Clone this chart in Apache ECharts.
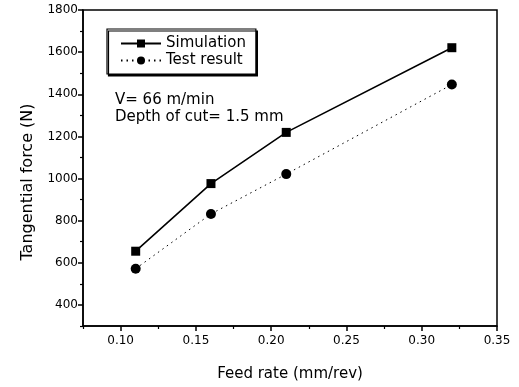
<!DOCTYPE html>
<html>
<head>
<meta charset="utf-8">
<script src="https://cdn.jsdelivr.net/npm/echarts@6/dist/echarts.min.js"></script>
<style>html,body{margin:0;padding:0;background:#fff;}#c{width:519px;height:387px;}</style>
</head>
<body>
<div id="c"></div>
<script>
const feedRate = [0.11, 0.16, 0.21, 0.32];
const simulation = [655, 976, 1219, 1621];
const testResult = [572, 832, 1021, 1446];
const xTicks = [0.10, 0.15, 0.20, 0.25, 0.30, 0.35];
const xMinorTicks = [0.075, 0.125, 0.175, 0.225, 0.275, 0.325];
const yTicks = [400, 600, 800, 1000, 1200, 1400, 1600, 1800];
const yMinorTicks = [300, 500, 700, 900, 1100, 1300, 1500, 1700];

const FONT = 'DejaVu Sans';
const chart = echarts.init(document.getElementById('c'), null, {renderer: 'canvas'});
chart.setOption({
  animation: false,
  backgroundColor: '#fff',
  textStyle: {fontFamily: FONT, color: '#000'},
  grid: {left: 83, right: 22, top: 10, bottom: 61, show: true, borderColor: '#000', borderWidth: 1.5, outerBoundsMode: 'none'},
  title: {
    text: 'V= 66 m/min\nDepth of cut= 1.5 mm',
    left: 115, top: 92, padding: 0,
    textStyle: {fontFamily: FONT, fontSize: 15, fontWeight: 'normal', color: '#000', lineHeight: 17}
  },
  legend: {
    orient: 'vertical', left: 107, top: 29,
    padding: [7, 10, 6, 13],
    itemWidth: 40, itemHeight: 10, itemGap: 2,
    backgroundColor: '#fff', borderColor: '#000', borderWidth: 1.2,
    shadowColor: '#000', shadowOffsetX: 1.5, shadowOffsetY: 2, shadowBlur: 0,
    textStyle: {fontFamily: FONT, fontSize: 15, color: '#000'},
    data: ['Simulation', 'Test result']
  },
  xAxis: [{
    type: 'value', min: 0.075, max: 0.35,
    name: 'Feed rate (mm/rev)', nameLocation: 'middle', nameGap: 41,
    nameTextStyle: {fontFamily: FONT, fontSize: 15, color: '#000'},
    axisLine: {show: true, lineStyle: {color: '#000', width: 1.5}},
    axisTick: {show: true, inside: false, length: 5, customValues: xTicks, lineStyle: {color: '#000', width: 1.5}},
    axisLabel: {customValues: xTicks, margin: 9, fontFamily: FONT, fontSize: 12, color: '#000', formatter: v => v.toFixed(2)},
    splitLine: {show: false}
  }, {
    type: 'value', min: 0.075, max: 0.35, position: 'bottom',
    axisLine: {show: false},
    axisTick: {show: true, length: 3, customValues: xMinorTicks, lineStyle: {color: '#000', width: 1.2}},
    axisLabel: {show: false}, splitLine: {show: false}
  }],
  yAxis: [{
    type: 'value', min: 300, max: 1800,
    name: 'Tangential force (N)', nameLocation: 'middle', nameGap: 47, nameRotate: 90,
    nameTextStyle: {fontFamily: FONT, fontSize: 16, color: '#000', padding: [0, 28, 0, 0]},
    axisLine: {show: true, lineStyle: {color: '#000', width: 1.5}},
    axisTick: {show: true, inside: false, length: 5, customValues: yTicks, lineStyle: {color: '#000', width: 1.5}},
    axisLabel: {customValues: yTicks, margin: 5, fontFamily: FONT, fontSize: 12, color: '#000', formatter: v => String(v)},
    splitLine: {show: false}
  }, {
    type: 'value', min: 300, max: 1800, position: 'left',
    axisLine: {show: false},
    axisTick: {show: true, length: 3, customValues: yMinorTicks, lineStyle: {color: '#000', width: 1.2}},
    axisLabel: {show: false}, splitLine: {show: false}
  }],
  series: [{
    name: 'Simulation', type: 'line',
    data: feedRate.map((x, i) => [x, simulation[i]]),
    symbol: 'rect', symbolSize: 9,
    lineStyle: {color: '#000', width: 1.6, type: 'solid'},
    itemStyle: {color: '#000'}
  }, {
    name: 'Test result', type: 'line',
    data: feedRate.map((x, i) => [x, testResult[i]]),
    symbol: 'circle', symbolSize: 10,
    lineStyle: {color: '#000', width: 1, type: [1.5, 4]},
    itemStyle: {color: '#000'}
  }]
});
</script>
</body>
</html>
